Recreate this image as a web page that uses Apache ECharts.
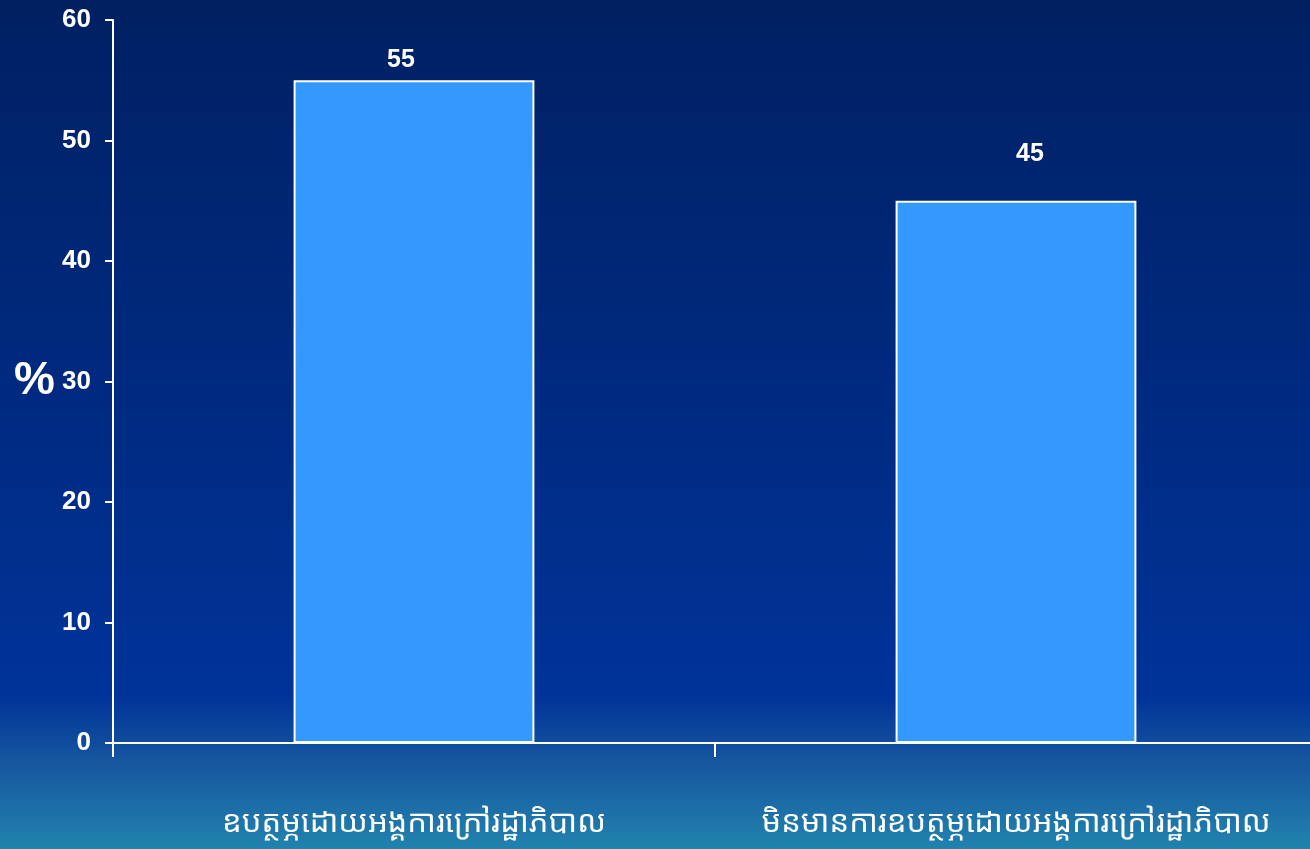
<!DOCTYPE html>
<html>
<head>
<meta charset="utf-8">
<style>
  html, body { margin: 0; padding: 0; background: #002266; }
  #chart { width: 1310px; height: 849px; }
</style>
<script src="https://cdn.jsdelivr.net/npm/echarts@6/dist/echarts.min.js"></script>
</head>
<body>
<div id="chart"></div>
<script>
// Share of respondents, with and without NGO sponsorship
const categories = [
  'ឧបត្ថម្ភដោយអង្គការក្រៅរដ្ឋាភិបាល',
  'មិនមានការឧបត្ថម្ភដោយអង្គការក្រៅរដ្ឋាភិបាល'
];
const percentValues = [55, 45];
const yTicks = { min: 0, max: 60, interval: 10 };
const yAxisTitle = '%';

const chart = echarts.init(document.getElementById('chart'), null, { renderer: 'canvas' });

const boldFont = '"Liberation Sans", Arial, sans-serif';
const khmerFont = '"Noto Sans Khmer", "Khmer OS", "Khmer OS System", "DejaVu Sans", sans-serif';

// Hand-placed nudges for the value labels, one per bar
const valueLabelNudges = [[-13, 0], [14, -26]];

const barData = percentValues.map((v, i) => ({
  value: v,
  label: { offset: valueLabelNudges[i] }
}));

chart.setOption({
  backgroundColor: {
    type: 'linear', x: 0, y: 0, x2: 0, y2: 1,
    colorStops: [
      { offset: 0, color: '#002062' },
      { offset: 0.45, color: '#002a80' },
      { offset: 0.82, color: '#003399' },
      { offset: 0.9, color: '#17579f' },
      { offset: 1, color: '#2183ae' }
    ]
  },
  animation: false,
  grid: {
    left: 113, right: -7, top: 20, bottom: 106,
    containLabel: false,
    outerBoundsMode: 'none'
  },
  xAxis: {
    type: 'category',
    data: categories,
    boundaryGap: true,
    axisLine: { show: true, lineStyle: { color: '#ffffff', width: 2 } },
    axisTick: { show: true, alignWithLabel: false, length: 14, lineStyle: { color: '#ffffff', width: 2 } },
    axisLabel: {
      color: '#ffffff',
      fontFamily: khmerFont,
      fontSize: 31,
      margin: 65,
      interval: 0
    },
    splitLine: { show: false }
  },
  yAxis: {
    type: 'value',
    min: yTicks.min,
    max: yTicks.max,
    interval: yTicks.interval,
    name: yAxisTitle,
    nameLocation: 'middle',
    nameRotate: 0,
    nameGap: 58,
    nameTextStyle: { color: '#ffffff', fontFamily: boldFont, fontWeight: 'bold', fontSize: 46 },
    axisLine: { show: true, lineStyle: { color: '#ffffff', width: 2 } },
    axisTick: { show: true, inside: false, length: 8, lineStyle: { color: '#ffffff', width: 2 } },
    axisLabel: {
      color: '#ffffff',
      fontFamily: boldFont,
      fontWeight: 'bold',
      fontSize: 26,
      margin: 22
    },
    splitLine: { show: false }
  },
  series: [{
    type: 'bar',
    data: barData,
    barWidth: '40%',
    itemStyle: { color: '#3399ff', borderColor: '#ffffff', borderWidth: 2 },
    label: {
      show: true,
      position: 'top',
      distance: 8,
      color: '#ffffff',
      fontFamily: boldFont,
      fontWeight: 'bold',
      fontSize: 25
    }
  }]
});
</script>
</body>
</html>
